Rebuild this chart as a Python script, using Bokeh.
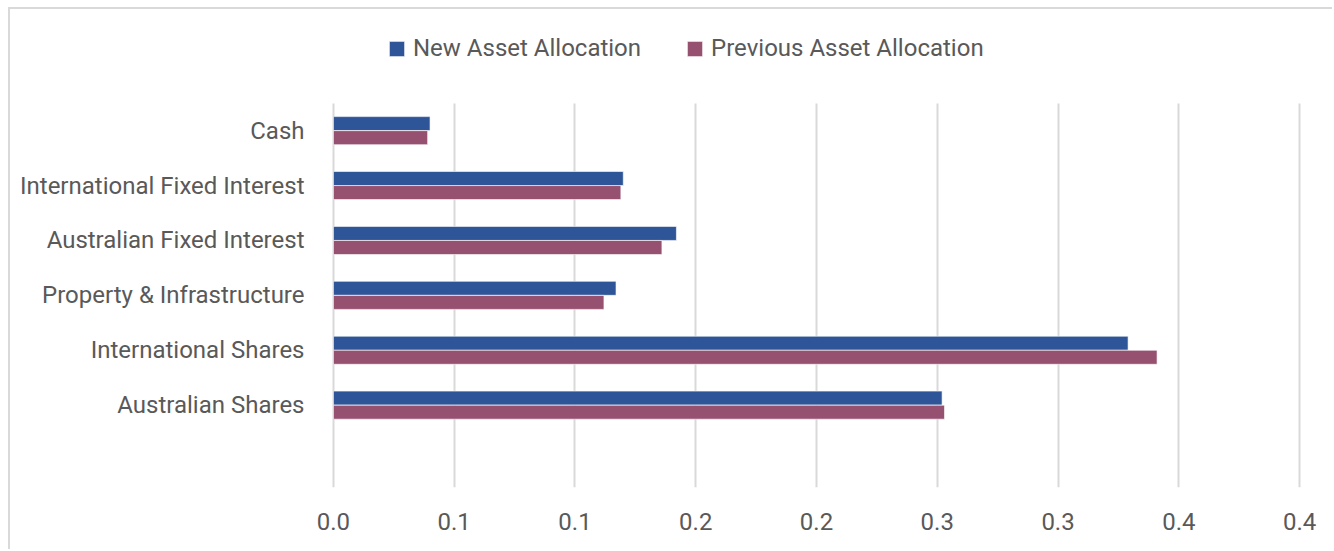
from bokeh.plotting import figure
from bokeh.models import ColumnDataSource, FixedTicker, Legend, LegendItem, Range1d
from bokeh.transform import dodge
from bokeh.embed import file_html
from bokeh.resources import INLINE

# ---- data (bottom to top) ----
asset_classes = ["Australian Shares", "International Shares", "Property & Infrastructure",
                 "Australian Fixed Interest", "International Fixed Interest", "Cash"]
new_alloc = [0.252, 0.329, 0.117, 0.142, 0.120, 0.040]
prev_alloc = [0.253, 0.341, 0.112, 0.136, 0.119, 0.039]
tick_values = [0.0, 0.05, 0.1, 0.15, 0.2, 0.25, 0.3, 0.35, 0.4]
tick_labels = ["0.0", "0.1", "0.1", "0.2", "0.2", "0.3", "0.3", "0.4", "0.4"]
series_names = ["New Asset Allocation", "Previous Asset Allocation"]

FONT = "Roboto"
FS = "24px"
TXT = "#595959"
BLUE = "#2E5597"
MAUVE = "#965070"
GRID = "#d9d9d9"

# category slots: 1..N, with an empty slot at 0 (as in the original chart)
ypos = list(range(1, len(asset_classes) + 1))
src = ColumnDataSource(dict(y=ypos, new=new_alloc, prev=prev_alloc))

W, H = 1324, 542
MB_L, MB_R, MB_T, MB_B = 321, 33, 0, 64
frame_h = H - MB_T - MB_B
band_px = 54.9
y_start = -0.5
y_end = y_start + frame_h / band_px
x_pad = 0.0008

p = figure(width=W, height=H, output_backend="svg", toolbar_location=None,
           x_range=Range1d(-x_pad, 0.4 + x_pad), y_range=Range1d(y_start, y_end))
p.min_border_left = MB_L
p.min_border_right = MB_R
p.min_border_top = MB_T
p.min_border_bottom = MB_B
p.styles = {"margin-left": "8px", "margin-top": "7px",
            "border-top": "2px solid " + GRID, "border-left": "2px solid " + GRID}
p.outline_line_color = None
p.background_fill_color = "white"
p.border_fill_color = "white"

# vertical gridlines only over the category area
grid_top = len(asset_classes) + 0.5
if "cross_bounds" in p.xgrid[0].properties():
    p.xgrid.ticker = FixedTicker(ticks=tick_values)
    p.xgrid.cross_bounds = (y_start, grid_top)
    p.xgrid.grid_line_color = GRID
    p.xgrid.grid_line_width = 2
else:
    p.xgrid.grid_line_color = None
    p.segment(x0=tick_values, x1=tick_values, y0=[y_start] * len(tick_values),
              y1=[grid_top] * len(tick_values), line_color=GRID, line_width=2)
p.ygrid.grid_line_color = None

r_new = p.hbar(y=dodge("y", 0.128), right="new", left=0, height=0.255,
               source=src, fill_color=BLUE, line_color="white", line_alpha=0.6, line_width=1)
r_prev = p.hbar(y=dodge("y", -0.128), right="prev", left=0, height=0.255,
                source=src, fill_color=MAUVE, line_color="white", line_alpha=0.6, line_width=1)

# axes
p.xaxis.ticker = FixedTicker(ticks=tick_values)
p.xaxis.major_label_overrides = {v: l for v, l in zip(tick_values, tick_labels)}
p.yaxis.ticker = FixedTicker(ticks=ypos)
p.yaxis.major_label_overrides = {v: l for v, l in zip(ypos, asset_classes)}
for ax in (p.xaxis[0], p.yaxis[0]):
    ax.axis_line_color = None
    ax.major_tick_line_color = None
    ax.minor_tick_line_color = None
    ax.major_tick_out = 0
    ax.major_tick_in = 0
    ax.minor_tick_out = 0
    ax.major_label_text_font = FONT
    ax.major_label_text_font_size = FS
    ax.major_label_text_color = TXT
p.xaxis.major_label_standoff = 25
p.yaxis.major_label_standoff = 27

legend = Legend(items=[LegendItem(label=series_names[0], renderers=[r_new]),
                       LegendItem(label=series_names[1], renderers=[r_prev])],
                orientation="horizontal", location=(56, 425))
legend.glyph_width = 19
legend.glyph_height = 19
legend.label_height = 28
legend.label_standoff = 7
legend.spacing = 44
legend.padding = 0
legend.margin = 0
legend.border_line_color = None
legend.background_fill_alpha = 0
legend.label_text_font = FONT
legend.label_text_font_size = FS
legend.label_text_color = TXT
p.add_layout(legend, "center")

open("out.html", "w").write(file_html(p, INLINE))
